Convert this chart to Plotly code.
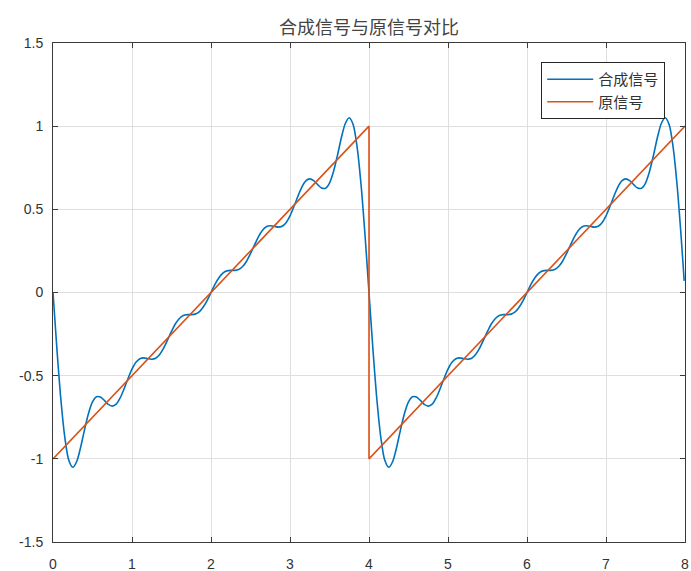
import plotly.graph_objects as go

# Sample times of the synthesised signal (step 0.05, last sample just before 8)
synth_t = [round(i * 0.05, 2) for i in range(160)] + [7.99]

# Synthesised signal, first period (t = 0 ... 3.95)
synth_y_first = [
    0.000, -0.343, -0.645, -0.873, -1.009, -1.051, -1.016, -0.930, -0.823, -0.726,
    -0.658, -0.627, -0.628, -0.649, -0.673, -0.683, -0.671, -0.634, -0.579, -0.517,
    -0.461, -0.420, -0.398, -0.393, -0.398, -0.401, -0.395, -0.373, -0.335, -0.285,
    -0.234, -0.188, -0.156, -0.138, -0.133, -0.133, -0.130, -0.117, -0.089, -0.049,
    0.000, 0.049, 0.089, 0.117, 0.130, 0.133, 0.133, 0.138, 0.156, 0.188,
    0.234, 0.285, 0.335, 0.373, 0.395, 0.401, 0.398, 0.393, 0.398, 0.420,
    0.461, 0.517, 0.579, 0.634, 0.671, 0.683, 0.673, 0.649, 0.628, 0.627,
    0.658, 0.726, 0.823, 0.930, 1.016, 1.051, 1.009, 0.873, 0.645, 0.343,
]
# Synthesised signal, second period (t = 4 ... 7.95, then 7.99)
synth_y_second = [
    0.000, -0.343, -0.645, -0.873, -1.009, -1.051, -1.016, -0.930, -0.823, -0.726,
    -0.658, -0.627, -0.628, -0.649, -0.673, -0.683, -0.671, -0.634, -0.579, -0.517,
    -0.461, -0.420, -0.398, -0.393, -0.398, -0.401, -0.395, -0.373, -0.335, -0.285,
    -0.234, -0.188, -0.156, -0.138, -0.133, -0.133, -0.130, -0.117, -0.089, -0.049,
    0.000, 0.049, 0.089, 0.117, 0.130, 0.133, 0.133, 0.138, 0.156, 0.188,
    0.234, 0.285, 0.335, 0.373, 0.395, 0.401, 0.398, 0.393, 0.398, 0.420,
    0.461, 0.517, 0.579, 0.634, 0.671, 0.683, 0.673, 0.649, 0.628, 0.627,
    0.658, 0.726, 0.823, 0.930, 1.016, 1.051, 1.009, 0.873, 0.645, 0.343,
    0.070,
]
synth_y = synth_y_first + synth_y_second

# Original sawtooth signal
orig_t = [0, 4, 4, 8]
orig_y = [-1, 1, -1, 1]

series_names = ["合成信号", "原信号"]
title_text = "合成信号与原信号对比"

x_ticks = [0, 1, 2, 3, 4, 5, 6, 7, 8]
x_tick_text = ["0", "1", "2", "3", "4", "5", "6", "7", "8"]
y_ticks = [-1.5, -1, -0.5, 0, 0.5, 1, 1.5]
y_tick_text = ["-1.5", "-1", "-0.5", "0", "0.5", "1", "1.5"]

AXIS_COLOR = "#3a3a3a"
GRID_COLOR = "#dfdfdf"
TEXT_COLOR = "#333333"
CJK = "Noto Sans CJK SC"

fig = go.Figure()
fig.add_trace(go.Scatter(
    x=synth_t, y=synth_y, mode="lines", name=series_names[0],
    line=dict(color="#0072BD", width=1.6, shape="spline", smoothing=0.8),
))
fig.add_trace(go.Scatter(
    x=orig_t, y=orig_y, mode="lines", name=series_names[1],
    line=dict(color="#D95319", width=1.6),
))

axis_common = dict(
    showline=True, linecolor=AXIS_COLOR, linewidth=1, mirror="ticks",
    ticks="inside", ticklen=5, tickcolor=AXIS_COLOR, tickwidth=1,
    showgrid=True, gridcolor=GRID_COLOR, gridwidth=1, zeroline=False,
    automargin=False,
    tickfont=dict(family="Liberation Sans, Arial", size=14, color=TEXT_COLOR),
)

fig.update_xaxes(range=[0, 8], tickvals=x_ticks, ticktext=x_tick_text,
                 ticklabelstandoff=9, **axis_common)
fig.update_yaxes(range=[-1.5, 1.5], tickvals=y_ticks, ticktext=y_tick_text,
                 ticklabelstandoff=6, **axis_common)

fig.update_layout(
    width=691, height=571,
    margin=dict(l=53, r=6, t=43, b=29, autoexpand=False),
    paper_bgcolor="white", plot_bgcolor="white",
    title=dict(text=title_text, x=0.534, xanchor="center", y=0.952, yanchor="middle",
               font=dict(family=CJK, size=18, color="#444444")),
    legend=dict(
        x=0.9687, y=0.962, xanchor="right", yanchor="top",
        bgcolor="white", bordercolor="#262626", borderwidth=1,
        font=dict(family=CJK, size=15, color=TEXT_COLOR),
        tracegroupgap=0, itemwidth=46,
    ),
    showlegend=True,
)

fig.write_html("out.html")
